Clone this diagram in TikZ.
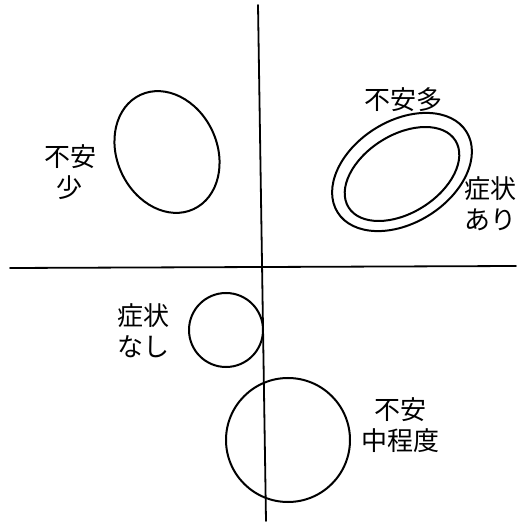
\documentclass[tikz,border=0pt]{standalone}
\usepackage{fontspec}
\newfontfamily\jpfont{Noto Sans CJK JP}
\usetikzlibrary{shapes.geometric}
\tikzset{
  loop/.style={draw, ellipse, line width=2pt, inner sep=0pt},
  axis/.style={line width=1.8pt, line cap=round},
  note/.style={font=\jpfont\fontsize{26}{31}\selectfont, align=center, inner sep=1pt}
}

\begin{document}
\begin{tikzpicture}[x=1pt,y=-1pt]
  \path[use as bounding box, fill=white] (0,0) rectangle (530,526);
  % axes
  \coordinate (top) at (258,5);
  \coordinate (bottom) at (266,521);
  \coordinate (left) at (10,268);
  \coordinate (right) at (516,266);
  \draw[axis] (top) -- (bottom);
  \draw[axis] (left) -- (right);
  % anxiety regions
  \node[loop, minimum width=100pt, minimum height=126pt, rotate=25] (few) at (167,152) {};
  \node[loop, minimum width=152pt, minimum height=102pt, rotate=32] (manyout) at (402,172) {};
  \node[loop, minimum width=126pt, minimum height=78pt, rotate=32] (manyin) at (402,174) {};
  \node[loop, circle, minimum size=74pt] (none) at (226,330) {};
  \node[loop, circle, minimum size=124pt] (mid) at (288,440) {};
  % labels
  \node[note] (fewtxt) at (70,172) {不安\\少};
  \node[note] (manytxt) at (403,100) {不安多};
  \node[note] (symtxt) at (490,204) {症状\\あり};
  \node[note] (nonetxt) at (143,331) {症状\\なし};
  \node[note] (midtxt) at (400,425) {不安\\中程度};
\end{tikzpicture}
\end{document}
